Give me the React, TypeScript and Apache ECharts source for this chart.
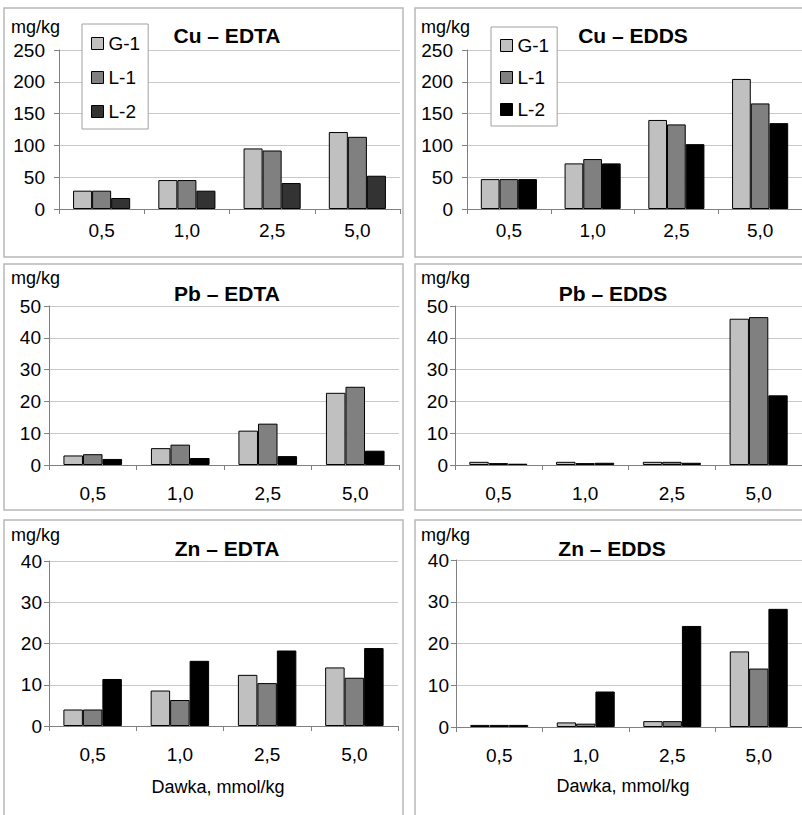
import React, { useEffect, useRef } from "react";
import * as echarts from "echarts";

const categories = ["0,5", "1,0", "2,5", "5,0"];
const seriesNames = ["G-1", "L-1", "L-2"];

const cuEdtaG1 = [28.8, 45.5, 95.2, 121];
const cuEdtaL1 = [28.8, 45.5, 92, 113.5];
const cuEdtaL2 = [17.3, 28.8, 40.8, 52.3];

const cuEddsG1 = [47, 71.7, 140, 204.5];
const cuEddsL1 = [47, 78.5, 133, 166];
const cuEddsL2 = [47, 71.7, 102, 135];

const pbEdtaG1 = [3.0, 5.3, 10.8, 22.7];
const pbEdtaL1 = [3.4, 6.4, 13.0, 24.6];
const pbEdtaL2 = [1.9, 2.2, 2.8, 4.5];

const pbEddsG1 = [1.0, 1.0, 1.0, 46.0];
const pbEddsL1 = [0.6, 0.6, 1.0, 46.5];
const pbEddsL2 = [0.4, 0.7, 0.7, 21.9];

const znEdtaG1 = [4.0, 8.6, 12.4, 14.2];
const znEdtaL1 = [4.0, 6.3, 10.4, 11.7];
const znEdtaL2 = [11.4, 15.8, 18.3, 18.9];

const znEddsG1 = [0.5, 1.1, 1.4, 18.1];
const znEddsL1 = [0.5, 0.8, 1.4, 14.0];
const znEddsL2 = [0.5, 8.5, 24.2, 28.3];

const panelTitles = ["Cu \u2013 EDTA", "Cu \u2013 EDDS", "Pb \u2013 EDTA", "Pb \u2013 EDDS", "Zn \u2013 EDTA", "Zn \u2013 EDDS"];
const yMax = [250, 250, 50, 50, 40, 40];
const yInterval = [50, 50, 10, 10, 10, 10];
const unitLabel = "mg/kg";
const xAxisTitle = "Dawka, mmol/kg";

const FONT = "'Liberation Sans', Arial, sans-serif";

export default function App() {
  const ref = useRef<HTMLDivElement>(null);

  useEffect(() => {
    if (!ref.current) return;
    const chart = echarts.init(ref.current, undefined, { renderer: "svg" });

    const panelData = [
      [cuEdtaG1, cuEdtaL1, cuEdtaL2],
      [cuEddsG1, cuEddsL1, cuEddsL2],
      [pbEdtaG1, pbEdtaL1, pbEdtaL2],
      [pbEddsG1, pbEddsL1, pbEddsL2],
      [znEdtaG1, znEdtaL1, znEdtaL2],
      [znEddsG1, znEddsL1, znEddsL2],
    ];

    // grid geometry [left, top, width, height]
    const grids = [
      [59, 50, 341, 159],
      [467, 50, 340, 159],
      [49, 306, 350, 159],
      [455, 306, 351, 159],
      [49, 561, 349, 165],
      [456, 560, 351, 167],
    ];
    const yLabelMargin = [14, 14, 8, 7, 7, 7];
    const xLabelMargin = [12, 12, 19, 19, 19, 19];

    const colorsFor = (i: number) =>
      i === 0 ? ["#c0c0c0", "#808080", "#333333"] : ["#c0c0c0", "#808080", "#000000"];

    const grid = grids.map((g) => ({ left: g[0], top: g[1], width: g[2], height: g[3], containLabel: false }));

    const xAxis = grids.map((_, i) => ({
      gridIndex: i,
      type: "category",
      data: categories,
      axisLine: { show: true, lineStyle: { color: "#808080", width: 1 } },
      axisTick: { show: true, length: 5, lineStyle: { color: "#808080" } },
      axisLabel: { fontSize: 19, color: "#000", fontFamily: FONT, margin: xLabelMargin[i] },
      splitLine: { show: false },
    }));

    const yAxis = grids.map((_, i) => ({
      gridIndex: i,
      type: "value",
      min: 0,
      max: yMax[i],
      interval: yInterval[i],
      axisLine: { show: true, lineStyle: { color: "#808080", width: 1 } },
      axisTick: { show: true, length: 5, lineStyle: { color: "#808080" } },
      axisLabel: { fontSize: 19, color: "#000", fontFamily: FONT, margin: yLabelMargin[i] },
      splitLine: { show: true, lineStyle: { color: "#c8c8c8", width: 1 } },
    }));

    const series: any[] = [];
    panelData.forEach((arrs, i) => {
      const cols = colorsFor(i);
      arrs.forEach((vals, j) => {
        series.push({
          type: "bar",
          name: seriesNames[j],
          xAxisIndex: i,
          yAxisIndex: i,
          data: vals,
          barGap: "0%",
          barCategoryGap: "33%",
          itemStyle: { color: cols[j], borderColor: "#000", borderWidth: 1 },
          emphasis: { disabled: true },
        });
      });
    });

    const legendBase = {
      orient: "vertical",
      selectedMode: false,
      backgroundColor: "#fff",
      borderColor: "#a0a0a0",
      borderWidth: 1,
      borderRadius: 0,
      itemWidth: 12,
      itemHeight: 12,
      itemStyle: { borderColor: "#000", borderWidth: 1 },
      textStyle: { fontSize: 19, color: "#000", fontFamily: FONT, lineHeight: 19 },
      icon: "rect",
    };

    const legend = [
      {
        ...legendBase,
        left: 82,
        top: 24,
        padding: [10, 8, 8, 9],
        itemGap: 15,
        data: [
          { name: "G-1", itemStyle: { color: "#c0c0c0" } },
          { name: "L-1", itemStyle: { color: "#808080" } },
          { name: "L-2", itemStyle: { color: "#333333" } },
        ],
      },
      {
        ...legendBase,
        left: 491,
        top: 27,
        padding: [9, 8, 7, 9],
        itemGap: 13,
        data: [
          { name: "G-1", itemStyle: { color: "#c0c0c0" } },
          { name: "L-1", itemStyle: { color: "#808080" } },
          { name: "L-2", itemStyle: { color: "#000000" } },
        ],
      },
    ];

    const panels = [
      [4, 8, 399, 249],
      [415, 8, 400, 249],
      [4, 264, 399, 246],
      [415, 264, 400, 246],
      [4, 520, 399, 300],
      [415, 520, 400, 300],
    ];
    const titlePos = [
      [227, 35],
      [633, 35],
      [227, 293],
      [613, 293],
      [227, 548],
      [612, 548],
    ];
    const unitPos = [
      [11, 27],
      [421, 27],
      [11, 278],
      [421, 278],
      [11, 535],
      [421, 535],
    ];

    const graphic: any[] = [];
    panels.forEach((p) => {
      graphic.push({
        type: "rect",
        shape: { x: p[0], y: p[1], width: p[2], height: p[3] },
        style: { fill: "none", stroke: "#b8b8b8", lineWidth: 1.5 },
        silent: true,
        z: -10,
      });
    });
    titlePos.forEach((t, i) => {
      graphic.push({
        type: "text",
        x: t[0],
        y: t[1],
        style: {
          text: panelTitles[i],
          fontSize: 21,
          fontWeight: "bold",
          fontFamily: FONT,
          fill: "#000",
          align: "center",
          verticalAlign: "middle",
        },
        silent: true,
        z: 10,
      });
    });
    unitPos.forEach((u) => {
      graphic.push({
        type: "text",
        x: u[0],
        y: u[1],
        style: {
          text: unitLabel,
          fontSize: 18,
          fontFamily: FONT,
          fill: "#000",
          align: "left",
          verticalAlign: "middle",
        },
        silent: true,
        z: 10,
      });
    });
    [
      [218, 787],
      [623, 786],
    ].forEach((d) => {
      graphic.push({
        type: "text",
        x: d[0],
        y: d[1],
        style: {
          text: xAxisTitle,
          fontSize: 18,
          fontFamily: FONT,
          fill: "#000",
          align: "center",
          verticalAlign: "middle",
        },
        silent: true,
        z: 10,
      });
    });

    chart.setOption({
      animation: false,
      backgroundColor: "#ffffff",
      textStyle: { fontFamily: FONT },
      grid,
      xAxis,
      yAxis,
      legend,
      series,
      graphic,
    });

    return () => chart.dispose();
  }, []);

  return (
    <div
      ref={ref}
      style={{ position: "fixed", left: 0, top: 0, width: 802, height: 815, background: "#fff" }}
    />
  );
}
